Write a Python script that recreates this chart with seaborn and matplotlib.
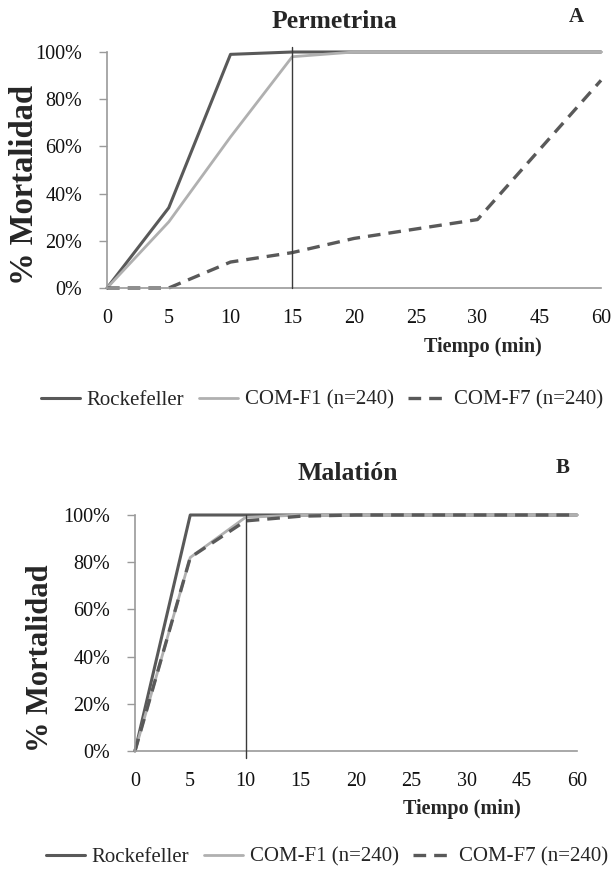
import pandas as pd
import matplotlib
matplotlib.use("Agg")
import matplotlib.pyplot as plt
import seaborn as sns
from matplotlib.ticker import PercentFormatter
from matplotlib.lines import Line2D

sns.set_theme(style="white")
plt.rcParams["font.family"] = ["Liberation Serif", "DejaVu Serif"]

# datos (mortalidad acumulada, fracción)
tiempos = ["0", "5", "10", "15", "20", "25", "30", "45", "60"]
series = ["Rockefeller", "COM-F1 (n=240)", "COM-F7 (n=240)"]

perm_rock = [0, 0.34, 0.99, 1.00, 1.00, 1.00, 1.00, 1.00, 1.00]
perm_f1 = [0, 0.28, 0.64, 0.98, 1.00, 1.00, 1.00, 1.00, 1.00]
perm_f7 = [0, 0.00, 0.11, 0.15, 0.21, 0.25, 0.29, 0.585, 0.88]

mal_rock = [0, 1.00, 1.00, 1.00, 1.00, 1.00, 1.00, 1.00, 1.00]
mal_f1 = [0, 0.82, 0.99, 1.00, 1.00, 1.00, 1.00, 1.00, 1.00]
mal_f7 = [0, 0.82, 0.975, 0.995, 1.00, 1.00, 1.00, 1.00, 1.00]

# tiempo de referencia marcado con la línea vertical
ref_perm = "15"
ref_mal = "10"

colores = ["#595959", "#b0b0b0", "#595959"]
anchos = [2.2, 2.0, 2.4]
estilos = ["-", "-", (0, (3.8, 2.4))]

W, H = 613, 869
fig = plt.figure(figsize=(W / 100, H / 100), dpi=100)


def panel(rect, valores, ref, vline_lims):
    ax = fig.add_axes(rect)
    pos = list(range(len(tiempos)))
    for nombre, vals, c, lw, ls in zip(series, valores, colores, anchos, estilos):
        df = pd.DataFrame({"pos": pos, "mort": vals})
        sns.lineplot(data=df, x="pos", y="mort", ax=ax, color=c, lw=lw,
                     linestyle=ls, legend=False, clip_on=False)
    ax.axvline(tiempos.index(ref), ymin=vline_lims[0], ymax=vline_lims[1],
               color="#3a3a3a", lw=1.0, clip_on=False, zorder=5)
    ax.set_xlim(0, len(tiempos) - 1)
    ax.set_ylim(0, 1)
    ax.set_xticks(pos)
    ax.set_xticklabels(tiempos)
    ax.set_yticks([0, 0.2, 0.4, 0.6, 0.8, 1.0])
    ax.yaxis.set_major_formatter(PercentFormatter(1.0, decimals=0))
    ax.set_xlabel("")
    ax.set_ylabel("")
    for s in ["top", "right"]:
        ax.spines[s].set_visible(False)
    for s in ["left", "bottom"]:
        ax.spines[s].set_color("#9a9a9a")
        ax.spines[s].set_linewidth(1.2)
    ax.tick_params(axis="y", left=True, length=6, width=1, color="#9a9a9a",
                   pad=12, labelsize=14.5, labelcolor="#111111")
    ax.tick_params(axis="x", bottom=False, pad=9, labelsize=14.5,
                   labelcolor="#111111")
    return ax


ax_a = panel([107 / W, 1 - 288 / H, 494 / W, 236 / H],
             [perm_rock, perm_f1, perm_f7], ref_perm, (0, 1.02))
ax_b = panel([135 / W, 1 - 751 / H, 442 / W, 236 / H],
             [mal_rock, mal_f1, mal_f7], ref_mal, (-0.03, 1.0))

# textos panel A
fig.text(334 / W, 1 - 21 / H, "Permetrina", ha="center", va="center",
         fontsize=18.5, fontweight="bold")
fig.text(576 / W, 1 - 17 / H, "A", ha="center", va="center",
         fontsize=15, fontweight="bold")
fig.text(25 / W, 1 - 185 / H, "% Mortalidad", rotation=90, ha="center",
         va="center", fontsize=23.5, fontweight="bold")
fig.text(483 / W, 1 - 347 / H, "Tiempo (min)", ha="center", va="center",
         fontsize=14.5, fontweight="bold")

# textos panel B
fig.text(348 / W, 1 - 473 / H, "Malatión", ha="center", va="center",
         fontsize=18.5, fontweight="bold")
fig.text(563 / W, 1 - 468 / H, "B", ha="center", va="center",
         fontsize=15, fontweight="bold")
fig.text(41 / W, 1 - 658 / H, "% Mortalidad", rotation=90, ha="center",
         va="center", fontsize=22, fontweight="bold")
fig.text(462 / W, 1 - 809 / H, "Tiempo (min)", ha="center", va="center",
         fontsize=14.5, fontweight="bold")

handles = [Line2D([], [], color=c, lw=lw, linestyle=ls)
           for c, lw, ls in zip(colores, anchos, estilos)]
for y, x in [(400, 322), (857, 327)]:
    fig.legend(handles, series, loc="center", ncol=3, frameon=False,
               bbox_to_anchor=(x / W, 1 - y / H), fontsize=15,
               handlelength=1.9, handletextpad=0.3, columnspacing=0.7)

fig.savefig("out.png", dpi=100)
